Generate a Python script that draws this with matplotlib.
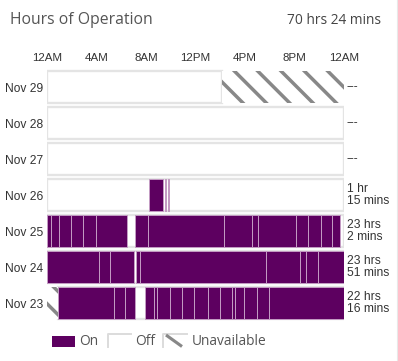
import matplotlib
matplotlib.use('Agg')
import matplotlib.pyplot as plt
from matplotlib.patches import Rectangle
from matplotlib.lines import Line2D

# ---------------- data ----------------
days = ['Nov 29', 'Nov 28', 'Nov 27', 'Nov 26', 'Nov 25', 'Nov 24', 'Nov 23']
totals = ['---', '---', '---', '1 hr\n15 mins', '23 hrs\n2 mins',
          '23 hrs\n51 mins', '22 hrs\n16 mins']
avail = [(0, 14.12), (0, 24), (0, 24), (0, 24), (0, 24), (0, 24), (0.89, 24)]
unavailable = [[(14.12, 24)], [], [], [], [], [], [(0, 0.89)]]
on_segments = [
    [], [], [],
    [(8.27, 9.35), (9.5, 9.58), (9.78, 9.86)],
    [(0, 0.3), (0.3, 0.97), (0.97, 1.96), (1.96, 2.93), (2.93, 3.94), (3.94, 6.5),
     (7.15, 8.16), (8.16, 14.33), (14.33, 16.59), (16.59, 17.07), (17.07, 20.1),
     (20.1, 21.1), (21.1, 22.14), (22.14, 23.0), (23.0, 23.68)],
    [(0, 4.2), (4.2, 5.07), (5.07, 7.05), (7.2, 7.52), (7.52, 17.67), (17.67, 20.47),
     (20.47, 20.95), (20.95, 21.87), (21.87, 24)],
    [(0.89, 5.41), (5.41, 6.28), (6.28, 7.1), (7.95, 8.65), (8.65, 8.86), (8.86, 9.94),
     (9.94, 10.93), (10.93, 11.88), (11.88, 12.99), (12.99, 13.98), (13.98, 14.97),
     (14.97, 15.19), (15.19, 15.94), (15.94, 16.95), (16.95, 17.94), (17.94, 24)],
]
total_label = '70 hrs 24 mins'
hour_ticks = [0, 4, 8, 12, 16, 20, 24]
hour_labels = ['12AM', '4AM', '8AM', '12PM', '4PM', '8PM', '12AM']
legend_labels = ['On', 'Off', 'Unavailable']

# ---------------- style ----------------
W, H, DPI = 398, 361, 140
PURPLE = '#5d0060'
SEP = '#c49cc4'
HATCH = '#888888'
plt.rcParams['hatch.linewidth'] = 1.8
plt.rcParams['hatch.color'] = HATCH

fig = plt.figure(figsize=(W / DPI, H / DPI), dpi=DPI)
fig.patch.set_facecolor('white')

ax = fig.add_axes([47 / W, (H - 321) / H, 297 / W, 252 / H])
ax.set_xlim(0, 24)
ax.set_ylim(len(days) - 0.5, -0.5)
for s in ax.spines.values():
    s.set_visible(False)

bh = 0.89
for i in range(len(days)):
    a0, a1 = avail[i]
    ax.barh(i, a1 - a0, left=a0, height=bh, facecolor='white',
            edgecolor='#e4e4e4', linewidth=1.2, zorder=1)
    for (u0, u1) in unavailable[i]:
        ax.barh(i, u1 - u0, left=u0, height=bh, facecolor='white',
                edgecolor=HATCH, hatch='\\\\', linewidth=0, zorder=1)
    if on_segments[i]:
        ax.broken_barh([(s0, s1 - s0) for (s0, s1) in on_segments[i]],
                       (i - bh / 2, bh), facecolors=PURPLE,
                       edgecolors=SEP, linewidth=0.5, zorder=2)
    ax.text(24.24, i, totals[i], ha='left', va='center', fontsize=6.2,
            family='Liberation Sans', color='#333333', linespacing=1.05)

ax.xaxis.tick_top()
ax.set_xticks(hour_ticks)
ax.set_xticklabels(hour_labels, fontsize=5.9, family='Liberation Sans', color='#333333')
ax.set_yticks(range(len(days)))
ax.set_yticklabels(days, fontsize=6.2, family='Liberation Sans', color='#333333')
ax.tick_params(axis='x', length=0, pad=3.0)
ax.tick_params(axis='y', length=0, pad=2.0)

# header
fig.text(10 / W, 1 - 20 / H, 'Hours of Operation', ha='left', va='center',
         fontsize=8.1, family='Open Sans', color='#555555')
fig.text(381 / W, 1 - 20 / H, total_label, ha='right', va='center',
         fontsize=7.05, family='Open Sans', color='#444444')

# legend
def fx(px):
    return px / W

def fy(py):
    return 1 - py / H

fig.add_artist(Rectangle((fx(51.7), fy(346.7)), 23.3 / W, 10.7 / H,
                         transform=fig.transFigure, facecolor=PURPLE, edgecolor='none'))
fig.add_artist(Line2D([fx(107.7), fx(107.7), fx(130.7)], [fy(347), fy(334), fy(334)],
                      transform=fig.transFigure, color='#dcdcdc', linewidth=1.0))
fig.add_artist(Line2D([fx(163.3), fx(163.3), fx(186.7)], [fy(347), fy(334), fy(334)],
                      transform=fig.transFigure, color='#dcdcdc', linewidth=1.0))
fig.add_artist(Line2D([fx(166), fx(182)], [fy(335), fy(346.5)],
                      transform=fig.transFigure, color=HATCH, linewidth=1.6,
                      solid_capstyle='butt'))
for x, lab in zip([79.3, 135, 191.7], legend_labels):
    fig.text(fx(x), fy(341.5), lab, ha='left', va='center', fontsize=7.05,
             family='Open Sans', color='#555555')

fig.add_artist(Line2D([fx(396.5), fx(396.5)], [0, 1], transform=fig.transFigure,
                      color='#e8e8e8', linewidth=0.6))

fig.savefig('out.png', dpi=DPI, facecolor='white')
